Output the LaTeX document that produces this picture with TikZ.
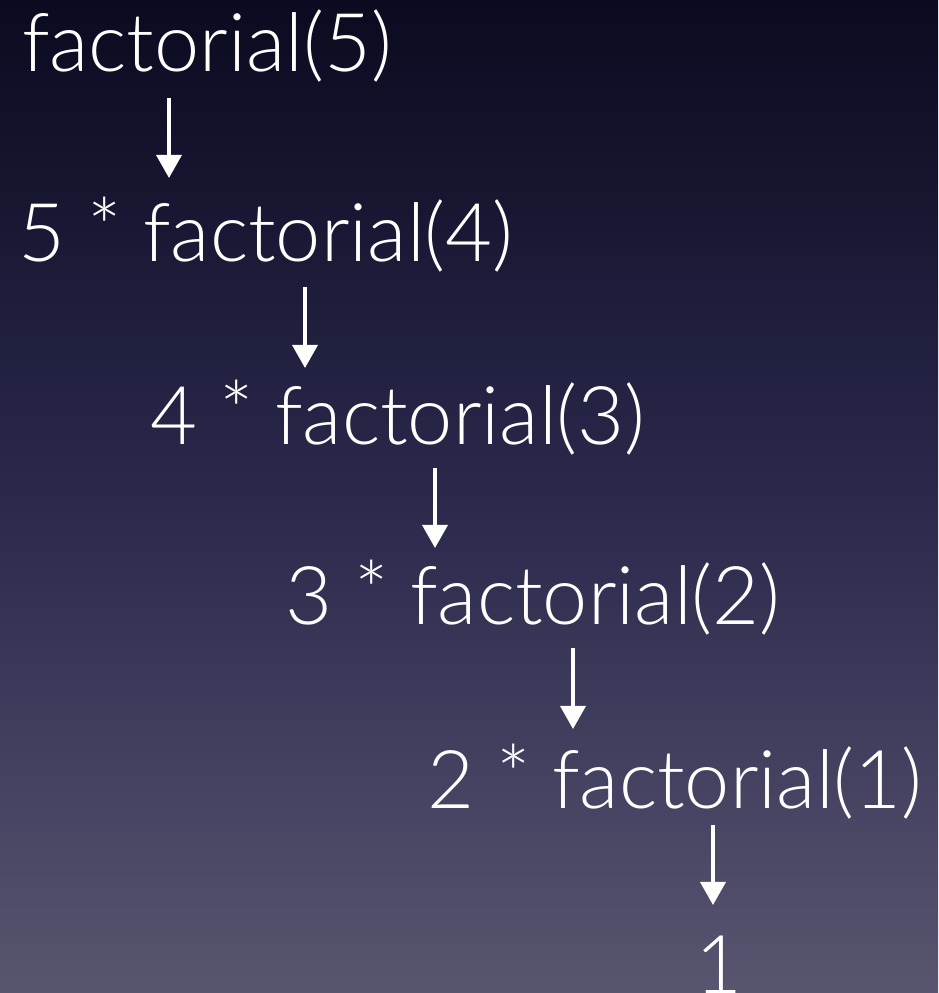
\documentclass[tikz,border=0pt]{standalone}
\usepackage{fontspec}
\setmainfont{Lato}[UprightFont=* Light]
\usetikzlibrary{arrows.meta}
\definecolor{bgtop}{RGB}{10,10,32}
\definecolor{bgmid}{RGB}{42,41,76}
\definecolor{bgbot}{RGB}{88,85,112}
\newcommand{\myast}{\raisebox{4pt}{*}}
\tikzset{
  lbl/.style={anchor=base west, inner sep=0pt, text=white, font=\fontsize{81}{96}\selectfont},
  arr/.style={draw=white, line width=3.6pt, -{Triangle[length=23pt,width=25pt]}}
}
\begin{document}
\begin{tikzpicture}[x=1pt,y=1pt]
\shade[top color=bgtop, bottom color=bgbot, middle color=bgmid] (0,0) rectangle (938,993);
\useasboundingbox (0,0) rectangle (938,993);
\node[lbl] (n1) at (22,921) {factorial(5)};
\node[lbl] (n2) at (18,731) {5 \myast{} factorial(4)};
\node[lbl] (n3) at (150,548) {4 \myast{} factorial(3)};
\node[lbl] (n4) at (285,368) {3 \myast{} factorial(2)};
\node[lbl] (n5) at (427,184) {2 \myast{} factorial(1)};
\node[lbl] (n6) at (695,0) {1};
\coordinate (a1s) at (169,895); \coordinate (a1e) at (169,815);
\coordinate (a2s) at (305,706); \coordinate (a2e) at (305,625);
\coordinate (a3s) at (435,525); \coordinate (a3e) at (435,445);
\coordinate (a4s) at (573,345); \coordinate (a4e) at (573,264);
\coordinate (a5s) at (713,168); \coordinate (a5e) at (713,88);
\draw[arr] (a1s) -- (a1e);
\draw[arr] (a2s) -- (a2e);
\draw[arr] (a3s) -- (a3e);
\draw[arr] (a4s) -- (a4e);
\draw[arr] (a5s) -- (a5e);
\end{tikzpicture}
\end{document}
